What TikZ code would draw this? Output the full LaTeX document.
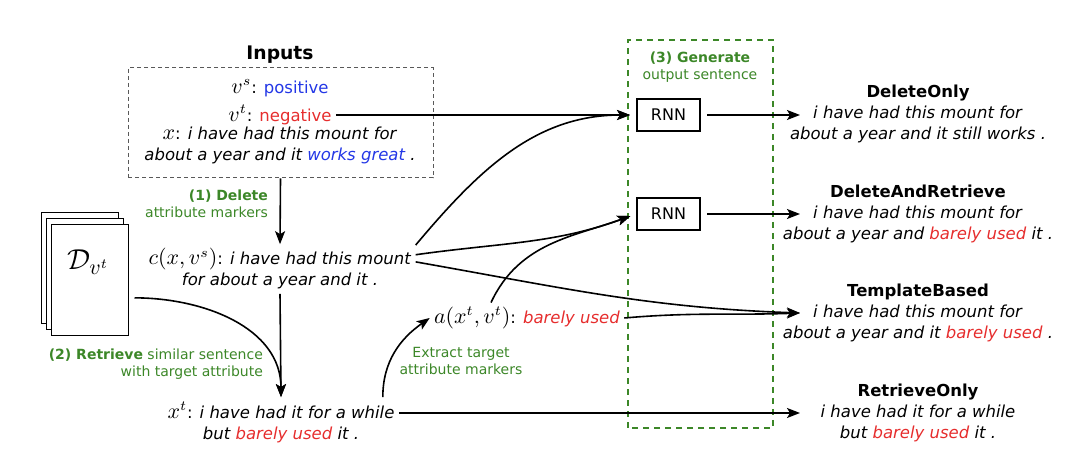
\documentclass[tikz,border=0pt]{standalone}
\usepackage{fontspec}
\setmainfont{DejaVu Sans}
\usetikzlibrary{arrows.meta,shadows}
\definecolor{posblue}{RGB}{35,55,230}
\definecolor{negred}{RGB}{230,45,45}
\definecolor{stepgreen}{RGB}{60,135,40}
\newcommand{\bluetxt}[1]{\textcolor{posblue}{#1}}
\newcommand{\redtxt}[1]{\textcolor{negred}{#1}}
\newcommand{\mth}[1]{{\fontsize{10.5}{10.5}\selectfont$#1$}}
\tikzset{
  txt/.style={font=\fontsize{8.25}{10.5}\selectfont, align=center, inner sep=2pt},
  note/.style={font=\fontsize{7}{8.5}\selectfont, text=stepgreen},
  rnnbox/.style={draw, line width=1pt, minimum width=31.5pt, minimum height=16pt, font=\fontsize{8}{10}\selectfont},
  arr/.style={-{Stealth[length=6.5pt,width=5pt,inset=1.5pt]}, line width=0.8pt},
  page/.style={draw, fill=white, line width=0.5pt, minimum width=38.5pt, minimum height=55.5pt,
    copy shadow={shadow xshift=-5pt, shadow yshift=6pt},
    copy shadow={shadow xshift=-2.5pt, shadow yshift=3pt}}
}
\begin{document}
\begin{tikzpicture}[x=0.5pt,y=0.5pt]
  \useasboundingbox (0,0) rectangle (1080,465);
  % inputs
  \node[font=\bfseries\fontsize{9.35}{11}\selectfont] (inputs) at (280,410) {Inputs};
  \node[draw=black!65, line width=0.5pt, dash pattern=on 2pt off 1.5pt, minimum width=152.5pt, minimum height=55pt] (inbox) at (280.5,342) {};
  \node[txt] (vs) at (280,377) {\mth{v^s}: \bluetxt{positive}};
  \node[txt] (vt) at (280,350) {\mth{v^t}: \redtxt{negative}};
  \node[txt] (xsrc) at (280,320) {\mth{x}: \textit{i have had this mount for}\\\textit{about a year and it \bluetxt{works great} .}};
  % target corpus
  \node[page] (docs) at (89.5,184.5) {};
  \node[font=\fontsize{15}{17}\selectfont] (dname) at (88,203) {$\mathcal{D}_{v^t}$};
  % intermediate sentences
  \node[txt] (cnode) at (280,196) {\mth{c(x,v^s)}: \textit{i have had this mount}\\\textit{for about a year and it .}};
  \node[txt] (xt) at (281,43) {\mth{x^t}: \textit{i have had it for a while}\\\textit{but \redtxt{barely used} it .}};
  \node[txt] (anode) at (527,147) {\mth{a(x^t,v^t)}: \redtxt{\textit{barely used}}};
  % step labels
  \node[note, align=right, anchor=east] (dellbl) at (275,261) {\textbf{(1) Delete}\\attribute markers};
  \node[note, align=right, anchor=east] (retlbl) at (270,101) {\textbf{(2) Retrieve} similar sentence\\with target attribute};
  \node[note, align=center] (extlbl) at (461,104) {Extract target\\attribute markers};
  \node[note, align=center] (genlbl) at (700,398) {\textbf{(3) Generate}\\output sentence};
  % generator
  \draw[stepgreen, line width=0.8pt, dash pattern=on 3pt off 2.5pt] (628,37) rectangle (773,425);
  \node[rnnbox] (rnn1) at (668.5,350) {RNN};
  \node[rnnbox] (rnn2) at (668.5,251) {RNN};
  % outputs
  \coordinate (outx) at (800,0);
  \node[txt] (dOnly) at (918,351) {\textbf{DeleteOnly}\\\textit{i have had this mount for}\\\textit{about a year and it still works .}};
  \node[txt] (dRet) at (918,251) {\textbf{DeleteAndRetrieve}\\\textit{i have had this mount for}\\\textit{about a year and \redtxt{barely used} it .}};
  \node[txt] (tBased) at (918,152) {\textbf{TemplateBased}\\\textit{i have had this mount for}\\\textit{about a year and it \redtxt{barely used} .}};
  \node[txt] (rOnly) at (918,52) {\textbf{RetrieveOnly}\\\textit{i have had it for a while}\\\textit{but \redtxt{barely used} it .}};
  % connectors
  \draw[arr, shorten >=3pt] (vt.east) -- (rnn1.west);
  \draw[arr] (inbox.south) -- (cnode.north);
  \draw[arr] (cnode.south) -- (xt.north);
  \draw[arr] ([xshift=3pt]docs.-24) to[out=0,in=90] (xt.north);
  \draw[arr] ([xshift=-8pt]xt.north east) to[out=90,in=215] (anode.west);
  \draw[arr, shorten >=3pt] (cnode.10) to[out=50,in=180] (rnn1.west);
  \draw[arr, shorten >=3pt] (cnode.6) to[out=8,in=200] (rnn2.west);
  \draw[arr, shorten >=3pt] ([xshift=-18pt]anode.north) to[out=65,in=200] (rnn2.west);
  \draw[arr] (cnode.3) to[out=-10,in=178] (tBased.west -| outx);
  \draw[arr] (anode.east) to[out=5,in=182] (tBased.west -| outx);
  \draw[arr] ([yshift=4.5pt]xt.east) -- (rOnly.west -| outx);
  \draw[arr, shorten <=3pt] (rnn1.east) -- (rnn1.east -| outx);
  \draw[arr, shorten <=3pt] (rnn2.east) -- (rnn2.east -| outx);
\end{tikzpicture}
\end{document}
